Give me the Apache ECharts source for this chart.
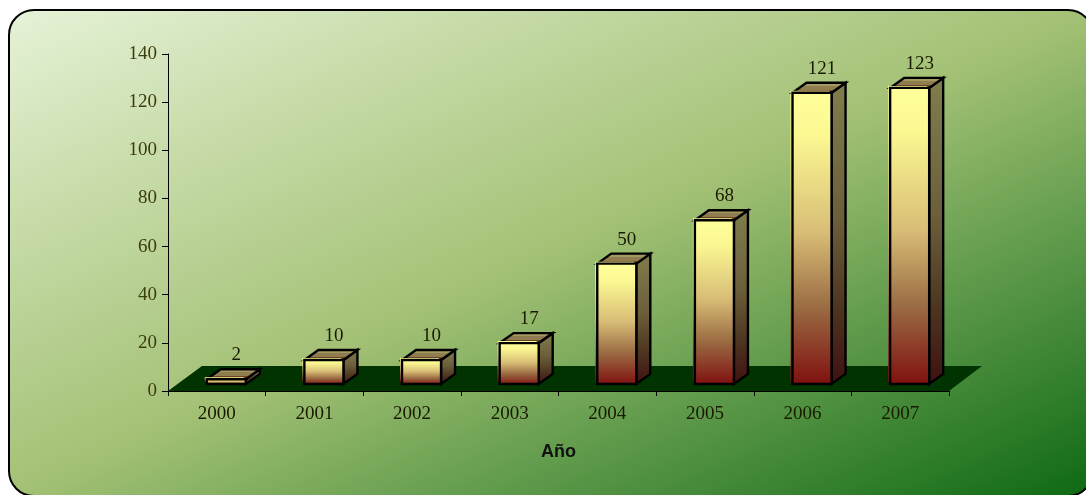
<!DOCTYPE html>
<html>
<head>
<meta charset="utf-8">
<style>html,body{margin:0;padding:0;background:#fff}#c{width:1086px;height:495px}</style>
<script src="https://cdn.jsdelivr.net/npm/echarts@6/dist/echarts.min.js"></script>
</head>
<body>
<div id="c"></div>
<script>
const years = ['2000','2001','2002','2003','2004','2005','2006','2007'];
const counts = [2,10,10,17,50,68,121,123];
const yTicks = {min:0,max:140,interval:20};
const axisName = 'Año';

const chart = echarts.init(document.getElementById('c'),null,{renderer:'canvas'});
const FONT = '"Liberation Serif"';
const lin = (x,y,x2,y2,stops)=>({type:'linear',x,y,x2,y2,colorStops:stops.map(c=>({offset:c[0],color:c[1]}))});
const frontFill = lin(0,0,0,1,[[0,'#ffff99'],[0.15,'#fbf892'],[0.48,'#d8bd76'],[0.74,'#9a6a42'],[1,'#7f0f0f']]);
const sideFill = lin(0,0,0,1,[[0,'#807e4d'],[0.45,'#6c5f3b'],[0.75,'#4d3520'],[1,'#3f1010']]);
const topFill = lin(0,0,0,1,[[0,'#a39a62'],[0.33,'#a39a62'],[0.34,'#8f7d50'],[0.66,'#8f7d50'],[0.67,'#6b4428'],[1,'#6b3a20']]);

function renderBar(params, api){
  const i = api.value(0), v = api.value(1);
  const base = api.coord([i,0]), tip = api.coord([i,v]);
  const band = api.size([1,0])[0];
  const w = band*0.4, cx = base[0]+band*0.097;
  const x0 = cx-w/2, x1 = cx+w/2;
  const up = 7, dx = 14, dy = 10;
  const b = base[1]-up, t = tip[1]-up;
  const ln = {stroke:'#000',lineWidth:2.4,lineJoin:'miter'};
  return {type:'group',children:[
    {type:'polygon',shape:{points:[[x1,t],[x1+dx,t-dy],[x1+dx,b-dy],[x1,b]]},style:{fill:sideFill,...ln}},
    {type:'polygon',shape:{points:[[x0,t],[x0+dx,t-dy],[x1+dx,t-dy],[x1,t]]},style:{fill:topFill,...ln}},
    {type:'rect',shape:{x:x0-2,y:t-2,width:w,height:b-t},style:{fill:frontFill,stroke:null}},
    {type:'rect',shape:{x:x0,y:t,width:w,height:b-t},style:{fill:frontFill,...ln}},
    {type:'text',x:cx+dx/2+3,y:t-dy-14,style:{text:String(v),font:'19px '+FONT,fill:'#1a1a00',align:'center',verticalAlign:'middle'}}
  ]};
}
function renderFloor(params, api){
  const g = params.coordSys;
  const by = g.y+g.height;
  return {type:'polygon',shape:{points:[[g.x,by],[g.x+g.width,by],[g.x+g.width+33,by-25],[g.x+34,by-25]]},style:{fill:'#003300'}};
}
chart.setOption({
  animation:false,
  graphic:[{type:'rect',z:-10,silent:true,shape:{x:9,y:10,width:1084,height:486,r:25},
    style:{stroke:'#000',lineWidth:2,fill:lin(0,0,0.335,1.665,[[0,'#e6f3d8'],[0.25,'#c4d9a4'],[0.5,'#a3c175'],[0.72,'#5f9a4b'],[1,'#0d6812']])}}],
  grid:{left:168,top:54,width:781,height:337},
  xAxis:{type:'category',data:years,name:axisName,nameLocation:'middle',nameGap:52,
    nameTextStyle:{fontFamily:'"Liberation Sans"',fontWeight:'bold',fontSize:18,color:'#111'},
    axisLine:{lineStyle:{color:'#000',width:1}},
    axisTick:{show:true,length:5,lineStyle:{color:'#000'}},
    axisLabel:{fontFamily:FONT,fontSize:19,color:'#1a1a00',margin:14},
    splitLine:{show:false}},
  yAxis:{type:'value',min:yTicks.min,max:yTicks.max,interval:yTicks.interval,
    axisLine:{show:true,lineStyle:{color:'#000',width:1}},
    axisTick:{show:true,length:6,lineStyle:{color:'#000'}},
    axisLabel:{fontFamily:FONT,fontSize:19,color:'#3d3d0c',margin:11},
    splitLine:{show:false}},
  series:[
    {type:'custom',z:1,clip:false,data:[[0,0]],encode:{x:0,y:1},renderItem:renderFloor,silent:true},
    {type:'custom',z:2,clip:false,data:counts.map((v,i)=>[i,v]),encode:{x:0,y:1},renderItem:renderBar}
  ]
});
</script>
</body>
</html>
